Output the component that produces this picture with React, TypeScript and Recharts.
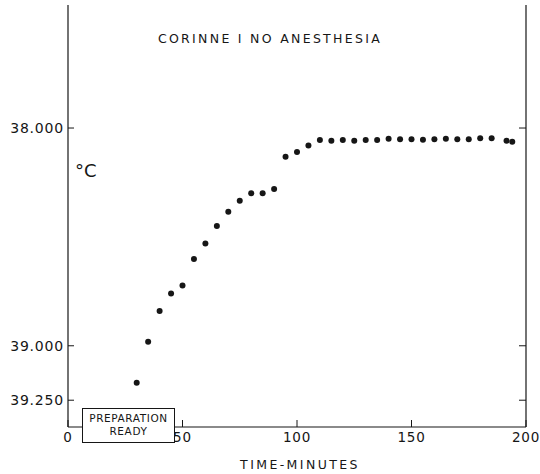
import React from "react";
import { ScatterChart, Scatter, XAxis, YAxis } from "recharts";

const minutes = [30, 35, 40, 45, 50, 55, 60, 65, 70, 75, 80, 85, 90, 95, 100, 105, 110, 115, 120, 125, 130, 135, 140, 145, 150, 155, 160, 165, 170, 175, 180, 185, 191.5, 194];
const temps = [39.17, 38.982, 38.84, 38.76, 38.723, 38.601, 38.53, 38.45, 38.385, 38.334, 38.299, 38.299, 38.28, 38.132, 38.11, 38.08, 38.055, 38.058, 38.055, 38.058, 38.055, 38.055, 38.049, 38.052, 38.052, 38.054, 38.051, 38.049, 38.051, 38.051, 38.047, 38.047, 38.058, 38.063];
const xTicks = [0, 50, 100, 150, 200];
const yTicks = [38.0, 39.0, 39.25];
const yTickLabels = ["38.000", "39.000", "39.250"];
const title = "CORINNE I NO ANESTHESIA";
const xTitle = "TIME-MINUTES";
const yTitle = "°C";
const boxText = ["PREPARATION", "READY"];

const data = minutes.map((t, i) => ({ t, v: temps[i] }));

const FONT = "'DejaVu Sans', sans-serif";
const INK = "#161616";

const BottomTick = (p: any) => {
  const { x, y, payload } = p;
  return (
    <g>
      <line x1={x} y1={y} x2={x} y2={y - 7} stroke={INK} strokeWidth={1} />
      <text x={x} y={y + 15} textAnchor="middle" fontSize={13.5} fontFamily={FONT} fill={INK} letterSpacing={0.8}>
        {String(payload.value)}
      </text>
    </g>
  );
};

const LeftTick = (p: any) => {
  const { x, y, payload } = p;
  const idx = yTicks.indexOf(payload.value);
  return (
    <g>
      <line x1={x} y1={y} x2={x + 6} y2={y} stroke={INK} strokeWidth={1} />
      <text x={x - 4} y={y + 5} textAnchor="end" fontSize={14} fontFamily={FONT} fill={INK} letterSpacing={0.8}>
        {idx >= 0 ? yTickLabels[idx] : ""}
      </text>
    </g>
  );
};

const RightTick = (p: any) => {
  const { x, y } = p;
  return <line x1={x} y1={y} x2={x - 7} y2={y} stroke={INK} strokeWidth={1} />;
};

const Dot = (p: any) => <circle cx={p.cx} cy={p.cy} r={3} fill={INK} />;

export default function App() {
  return (
    <div style={{ position: "absolute", left: 0, top: 0, width: 540, height: 474, background: "#fff" }}>
      <ScatterChart width={540} height={474} margin={{ top: 5, right: 0, bottom: 0, left: 0 }}>
        <XAxis
          xAxisId="b"
          type="number"
          dataKey="t"
          domain={[0, 200]}
          ticks={xTicks}
          height={47}
          tickSize={0}
          tickMargin={0}
          tickLine={false}
          tick={<BottomTick />}
          axisLine={{ stroke: INK, strokeWidth: 1.2 }}
          interval={0}
        />
        <XAxis
          xAxisId="top"
          orientation="top"
          type="number"
          domain={[0, 200]}
          height={0}
          tick={false}
          tickLine={false}
          axisLine={{ stroke: INK, strokeWidth: 1.2 }}
        />
        <YAxis
          yAxisId="l"
          type="number"
          dataKey="v"
          domain={[37.435, 39.373]}
          reversed
          allowDataOverflow
          ticks={yTicks}
          width={68}
          tickSize={0}
          tickMargin={0}
          tickLine={false}
          tick={<LeftTick />}
          axisLine={{ stroke: INK, strokeWidth: 1.2 }}
          interval={0}
        />
        <YAxis
          yAxisId="r"
          orientation="right"
          type="number"
          domain={[37.435, 39.373]}
          reversed
          allowDataOverflow
          ticks={yTicks}
          width={14}
          tickSize={0}
          tickMargin={0}
          tickLine={false}
          tick={<RightTick />}
          axisLine={{ stroke: INK, strokeWidth: 1.2 }}
          interval={0}
        />
        <Scatter data={data} xAxisId="b" yAxisId="l" shape={<Dot />} isAnimationActive={false} />
      </ScatterChart>
      <div
        style={{
          position: "absolute",
          left: 140,
          top: 31,
          width: 260,
          textAlign: "center",
          fontFamily: FONT,
          fontSize: 12.5,
          letterSpacing: 2.3,
          color: INK,
          lineHeight: "16px",
          whiteSpace: "nowrap",
        }}
      >
        {title}
      </div>
      <div
        style={{
          position: "absolute",
          left: 75,
          top: 160,
          fontFamily: FONT,
          fontSize: 18,
          color: INK,
          lineHeight: "22px",
        }}
      >
        {yTitle}
      </div>
      <div
        style={{
          position: "absolute",
          left: 200,
          top: 457,
          width: 200,
          textAlign: "center",
          fontFamily: FONT,
          fontSize: 12.5,
          letterSpacing: 2.4,
          color: INK,
          lineHeight: "16px",
        }}
      >
        {xTitle}
      </div>
      <div
        style={{
          position: "absolute",
          left: 82,
          top: 408,
          width: 93,
          height: 35,
          border: `1px solid ${INK}`,
          background: "#fff",
          fontFamily: FONT,
          fontSize: 10.5,
          letterSpacing: 0.6,
          color: INK,
          textAlign: "center",
          lineHeight: "13px",
          paddingTop: 3,
          boxSizing: "border-box",
          whiteSpace: "nowrap",
        }}
      >
        <div>{boxText[0]}</div>
        <div>{boxText[1]}</div>
      </div>
    </div>
  );
}
